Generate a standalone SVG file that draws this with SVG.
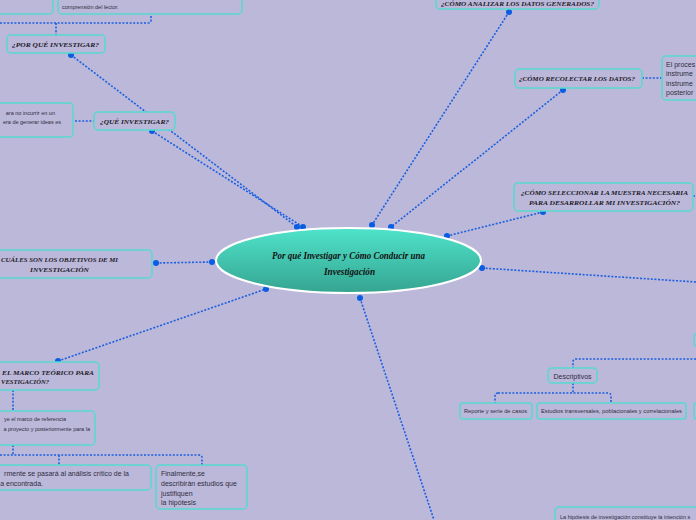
<svg xmlns="http://www.w3.org/2000/svg" width="696" height="520" viewBox="0 0 696 520">
<defs>
<linearGradient id="cg" x1="0" y1="0" x2="0" y2="1">
<stop offset="0" stop-color="#4fe3cb"/>
<stop offset="1" stop-color="#35a490"/>
</linearGradient>
<style>
.box{fill:#bcb8da;stroke:#56d9d0;stroke-width:1.5}
.ln{fill:none;stroke:#1b5fe0;stroke-width:1.6;stroke-dasharray:2 1.6}
.dot{fill:#0a5de2}
.t{font-family:"Liberation Serif",serif;font-weight:bold;font-style:italic;font-size:7px;fill:#1c1a28}
.s{font-family:"Liberation Sans",Arial,sans-serif;font-size:5.5px;fill:#2f2d40}
.m{font-family:"Liberation Sans",Arial,sans-serif;font-size:7px;fill:#2f2d40}
.c{font-family:"Liberation Serif",serif;font-weight:bold;font-style:italic;font-size:10px;fill:#111}
</style>
</defs>
<rect width="696" height="520" fill="#bcb8da"/>
<g id="connectors">
<path class="ln" d="M71 55 L297 227"/>
<path class="ln" d="M152 131 L303 227"/>
<path class="ln" d="M509 12 L372 225"/>
<path class="ln" d="M563 90 L391 227"/>
<path class="ln" d="M543 212 L447 236"/>
<path class="ln" d="M482 268 L696 282"/>
<path class="ln" d="M156 263 L212 262"/>
<path class="ln" d="M58 361 L266 289"/>
<path class="ln" d="M360 298 L434 520"/>
<path class="ln" d="M0 23 L148 23 Q151 23 151 20 L151 14"/>
<path class="ln" d="M56 23 L56 35"/>
<path class="ln" d="M75 121 L94 121"/>
<path class="ln" d="M642 78 L662 78"/>
<path class="ln" d="M693 196 L696 196"/>
<path class="ln" d="M13 390 L13 411"/>
<path class="ln" d="M13 445 L13 455"/>
<path class="ln" d="M0 455 L199 455 Q202 455 202 458 L202 465"/>
<path class="ln" d="M59 455 L59 465"/>
<path class="ln" d="M696 359 L576 359 Q573 359 573 362 L573 368"/>
<path class="ln" d="M573 383 L573 393"/>
<path class="ln" d="M498 393 L608 393 Q611 393 611 396 L611 403"/>
<path class="ln" d="M498 393 Q495 393 495 396 L495 403"/>
<circle class="dot" cx="71" cy="55" r="3"/>
<circle class="dot" cx="152" cy="131" r="3"/>
<circle class="dot" cx="297" cy="227" r="3"/>
<circle class="dot" cx="303" cy="227" r="3"/>
<circle class="dot" cx="509" cy="12" r="3"/>
<circle class="dot" cx="372" cy="225" r="3"/>
<circle class="dot" cx="563" cy="90" r="3"/>
<circle class="dot" cx="391" cy="227" r="3"/>
<circle class="dot" cx="543" cy="212" r="3"/>
<circle class="dot" cx="447" cy="236" r="3"/>
<circle class="dot" cx="482" cy="268" r="3"/>
<circle class="dot" cx="156" cy="263" r="3"/>
<circle class="dot" cx="212" cy="262" r="3"/>
<circle class="dot" cx="58" cy="361" r="3"/>
<circle class="dot" cx="266" cy="289" r="3"/>
<circle class="dot" cx="360" cy="298" r="3"/>
</g>
<g id="center">
<ellipse cx="348.5" cy="260.5" rx="132.5" ry="32.5" fill="url(#cg)" stroke="#ffffff" stroke-width="2"/>
<text class="c" x="348.5" y="259" text-anchor="middle" textLength="153" lengthAdjust="spacingAndGlyphs">Por qué Investigar y Cómo Conducir una</text>
<text class="c" x="349.5" y="275" text-anchor="middle" textLength="51" lengthAdjust="spacingAndGlyphs">Investigación</text>
</g>
<g id="n-top1"><rect class="box" x="-10" y="-20" width="63" height="34" rx="4"/></g>
<g id="n-top2"><rect class="box" x="58" y="-20" width="184" height="34" rx="4"/>
<text class="s" x="62" y="8.5">comprensión del lector.</text></g>
<g id="n-porque"><rect class="box" x="7" y="35" width="98" height="18" rx="4"/>
<text class="t" x="12" y="46.5" textLength="87" lengthAdjust="spacingAndGlyphs">¿POR QUÉ INVESTIGAR?</text></g>
<g id="n-que"><rect class="box" x="94" y="112" width="81" height="18" rx="4"/>
<text class="t" x="100" y="123.5" textLength="69" lengthAdjust="spacingAndGlyphs">¿QUÉ INVESTIGAR?</text></g>
<g id="n-que-desc"><rect class="box" x="-10" y="103" width="83" height="34" rx="4"/>
<text class="s" x="55" y="114.5" text-anchor="end">ara no incurrir en un</text>
<text class="s" x="61" y="124" text-anchor="end">era de generar ideas es</text></g>
<g id="n-analizar"><rect class="box" x="436" y="-12" width="163" height="21" rx="4"/>
<text class="t" x="441" y="5.5" textLength="153" lengthAdjust="spacingAndGlyphs">¿CÓMO ANALIZAR LOS DATOS GENERADOS?</text></g>
<g id="n-recolectar"><rect class="box" x="515" y="69" width="127" height="19" rx="4"/>
<text class="t" x="519" y="80.5" textLength="116" lengthAdjust="spacingAndGlyphs">¿CÓMO RECOLECTAR LOS DATOS?</text></g>
<g id="n-recolectar-desc"><rect class="box" x="662" y="56" width="50" height="44" rx="4"/>
<text class="m" x="666" y="67">El proces</text>
<text class="m" x="666" y="76">instrume</text>
<text class="m" x="666" y="85.5">instrume</text>
<text class="m" x="666" y="95">posterior</text></g>
<g id="n-muestra"><rect class="box" x="514" y="183" width="179" height="28" rx="4"/>
<text class="t" x="521" y="195" textLength="167" lengthAdjust="spacingAndGlyphs">¿CÓMO SELECCIONAR LA MUESTRA NECESARIA</text>
<text class="t" x="529" y="205" textLength="151" lengthAdjust="spacingAndGlyphs">PARA DESARROLLAR MI INVESTIGACIÓN?</text></g>
<g id="n-objetivos"><rect class="box" x="-20" y="250" width="172" height="28" rx="4"/>
<text class="t" x="1" y="261.5" textLength="117" lengthAdjust="spacingAndGlyphs">CUÁLES SON LOS OBJETIVOS DE MI</text>
<text class="t" x="30" y="271.5" textLength="59" lengthAdjust="spacingAndGlyphs">INVESTIGACIÓN</text></g>
<g id="n-marco"><rect class="box" x="-20" y="362" width="119" height="28" rx="4"/>
<text class="t" x="2" y="375" textLength="92" lengthAdjust="spacingAndGlyphs">EL MARCO TEÓRICO PARA</text>
<text class="t" x="1" y="384" textLength="48" lengthAdjust="spacingAndGlyphs">VESTIGACIÓN?</text></g>
<g id="n-marco-desc"><rect class="box" x="-20" y="411" width="115" height="34" rx="4"/>
<text class="s" x="66" y="421" text-anchor="end">ye el marco de referencia</text>
<text class="s" x="90" y="431" text-anchor="end">a proyecto y posteriormente para la</text></g>
<g id="n-analisis"><rect class="box" x="-20" y="465" width="171" height="25" rx="4"/>
<text class="m" x="129" y="476" text-anchor="end">rmente se pasará al análisis crítico de la</text>
<text class="m" x="43" y="486" text-anchor="end">a encontrada.</text></g>
<g id="n-finalmente"><rect class="box" x="156" y="465" width="91" height="44" rx="4"/>
<text class="m" x="161" y="476">Finalmente,se</text>
<text class="m" x="161" y="486">describirán estudios que</text>
<text class="m" x="161" y="495.5">justifiquen</text>
<text class="m" x="161" y="505">la hipótesis</text></g>
<g id="n-right-top"><rect class="box" x="694" y="333" width="20" height="14" rx="4"/></g>
<g id="n-descriptivos"><rect class="box" x="548" y="368" width="49" height="15" rx="4"/>
<text class="m" x="572.5" y="378.5" text-anchor="middle" font-size="6.5">Descriptivos</text></g>
<g id="n-reporte"><rect class="box" x="460" y="403" width="72" height="16" rx="3"/>
<text class="s" x="464" y="413" font-size="5" textLength="63" lengthAdjust="spacingAndGlyphs">Reporte y serie de casos</text></g>
<g id="n-estudios"><rect class="box" x="537" y="403" width="149" height="16" rx="3"/>
<text class="s" x="541" y="413" font-size="5" textLength="141" lengthAdjust="spacingAndGlyphs">Estudios transversales, poblacionales y correlacionales</text></g>
<g id="n-right-bottom"><rect class="box" x="694" y="403" width="20" height="16" rx="3"/></g>
<g id="n-hipotesis"><rect class="box" x="555" y="507" width="160" height="30" rx="4"/>
<text class="s" x="560" y="518.5">La hipótesis de investigación constituye la intención s</text></g>
</svg>
